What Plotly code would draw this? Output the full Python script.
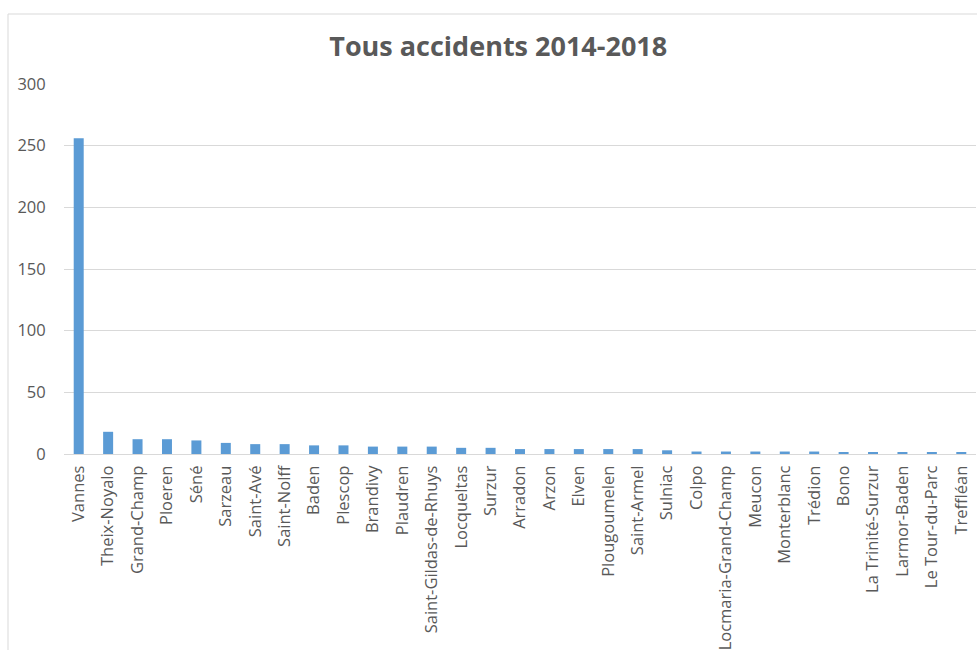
import plotly.graph_objects as go

# Accidents par commune, 2014-2018
communes = [
    "Vannes", "Theix-Noyalo", "Grand-Champ", "Ploeren", "Séné", "Sarzeau",
    "Saint-Avé", "Saint-Nolff", "Baden", "Plescop", "Brandivy", "Plaudren",
    "Saint-Gildas-de-Rhuys", "Locqueltas", "Surzur", "Arradon", "Arzon",
    "Elven", "Plougoumelen", "Saint-Armel", "Sulniac", "Colpo",
    "Locmaria-Grand-Champ", "Meucon", "Monterblanc", "Trédion", "Bono",
    "La Trinité-Surzur", "Larmor-Baden", "Le Tour-du-Parc", "Treffléan",
]
accidents = [
    256, 18, 12, 12, 11, 9,
    8, 8, 7, 7, 6, 6,
    6, 5, 5, 4, 4,
    4, 4, 4, 3, 2,
    2, 2, 2, 2, 1,
    1, 1, 1, 1,
]
y_ticks = [0, 50, 100, 150, 200, 250, 300]

text_color = "#595959"
grid_color = "#d9d9d9"
font_family = "'Open Sans', sans-serif"

fig = go.Figure(
    go.Bar(
        x=communes,
        y=accidents,
        marker=dict(color="#5b9bd5", line=dict(width=0)),
        hoverinfo="x+y",
    )
)

fig.update_layout(
    width=977,
    height=650,
    margin=dict(l=64, r=1, t=84, b=196),
    paper_bgcolor="white",
    plot_bgcolor="white",
    bargap=0.66,
    showlegend=False,
    title=dict(
        text="<b>Tous accidents 2014-2018</b>",
        x=0.51,
        xanchor="center",
        y=0.929,
        yanchor="middle",
        font=dict(family=font_family, size=27, color=text_color),
    ),
    font=dict(family=font_family, color=text_color),
    shapes=[
        dict(
            type="rect",
            xref="paper", yref="paper",
            x0=-56 / 912, x1=1.2,
            y0=-1.0, y1=1 + 70 / 370,
            line=dict(color=grid_color, width=1),
            fillcolor="rgba(0,0,0,0)",
            layer="below",
        )
    ],
)

fig.update_xaxes(
    tickangle=-90,
    tickfont=dict(size=16.5, color=text_color, family=font_family),
    showgrid=False,
    showline=True,
    linecolor=grid_color,
    linewidth=1,
    ticks="outside",
    ticklen=4,
    tickcolor="rgba(0,0,0,0)",
)

fig.update_yaxes(
    range=[0, 300],
    tickvals=y_ticks,
    tickfont=dict(size=16.5, color=text_color, family=font_family),
    showgrid=True,
    gridcolor=grid_color,
    gridwidth=1,
    zeroline=False,
    showline=False,
    ticks="outside",
    ticklen=14,
    tickcolor="rgba(0,0,0,0)",
)

fig.write_html("out.html")
